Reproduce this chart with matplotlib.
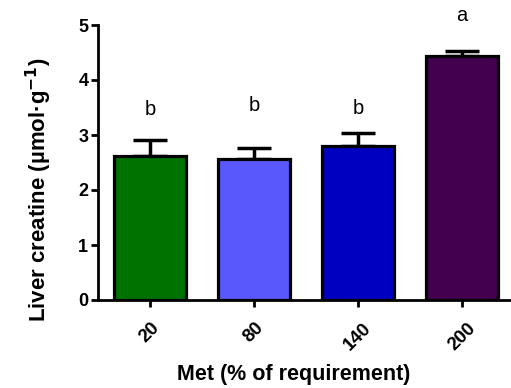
import numpy as np
import matplotlib.pyplot as plt
import matplotlib.transforms as mtransforms

plt.rcParams['font.family'] = ['Liberation Sans', 'DejaVu Sans']

# data
groups = ['20', '80', '140', '200']
means = [2.62, 2.56, 2.80, 4.44]
sems = [0.28, 0.20, 0.24, 0.09]
letters = ['b', 'b', 'b', 'a']
letter_y = [3.47, 3.53, 3.49, 5.18]
colors = ['#007200', '#5858fc', '#0000c0', '#43004f']

fig = plt.figure(figsize=(5.11, 3.88), dpi=100)
ax = fig.add_axes([98 / 511, 88 / 388, 416 / 511, 275 / 388])

x = np.arange(len(groups))
ax.bar(x, means, width=0.69, color=colors, edgecolor='k', linewidth=2.3, zorder=2)
ax.errorbar(x, means, yerr=[np.zeros(len(sems)), sems], fmt='none', ecolor='k',
            elinewidth=2.5, capsize=12, capthick=2.5, zorder=1)
for xi, lab, yl in zip(x, letters, letter_y):
    ax.text(xi, yl, lab, ha='center', va='center', fontsize=14.5, clip_on=False)

ax.set_xlim(-0.5, 3.5)
ax.set_ylim(0, 5)
ax.set_yticks(range(6))
ax.set_xticks(x)
ax.set_xticklabels(groups, rotation=45, ha='center', va='top', fontweight='bold',
                   fontsize=13.5)
shift = mtransforms.ScaledTranslation(-8 / 100, 0, fig.dpi_scale_trans)
for lab in ax.get_xticklabels():
    lab.set_transform(lab.get_transform() + shift)
for lab in ax.get_yticklabels():
    lab.set_fontweight('bold')
    lab.set_fontsize(13)
ax.tick_params(axis='both', width=2, length=5, direction='out', colors='k')
ax.tick_params(axis='x', pad=9)
ax.tick_params(axis='y', pad=2)
for s in ['top', 'right']:
    ax.spines[s].set_visible(False)
for s in ['left', 'bottom']:
    ax.spines[s].set_linewidth(2)

ax.set_ylabel('Liver creatine (µmol·g$^{\\mathbf{-1}}$)', fontweight='bold', fontsize=16)
ax.set_xlabel('Met (% of requirement)', fontweight='bold', fontsize=15.5)
ax.yaxis.set_label_coords(-0.106, 0.4)
ax.xaxis.set_label_coords(0.471, -0.232)

fig.savefig('out.png', dpi=100)
